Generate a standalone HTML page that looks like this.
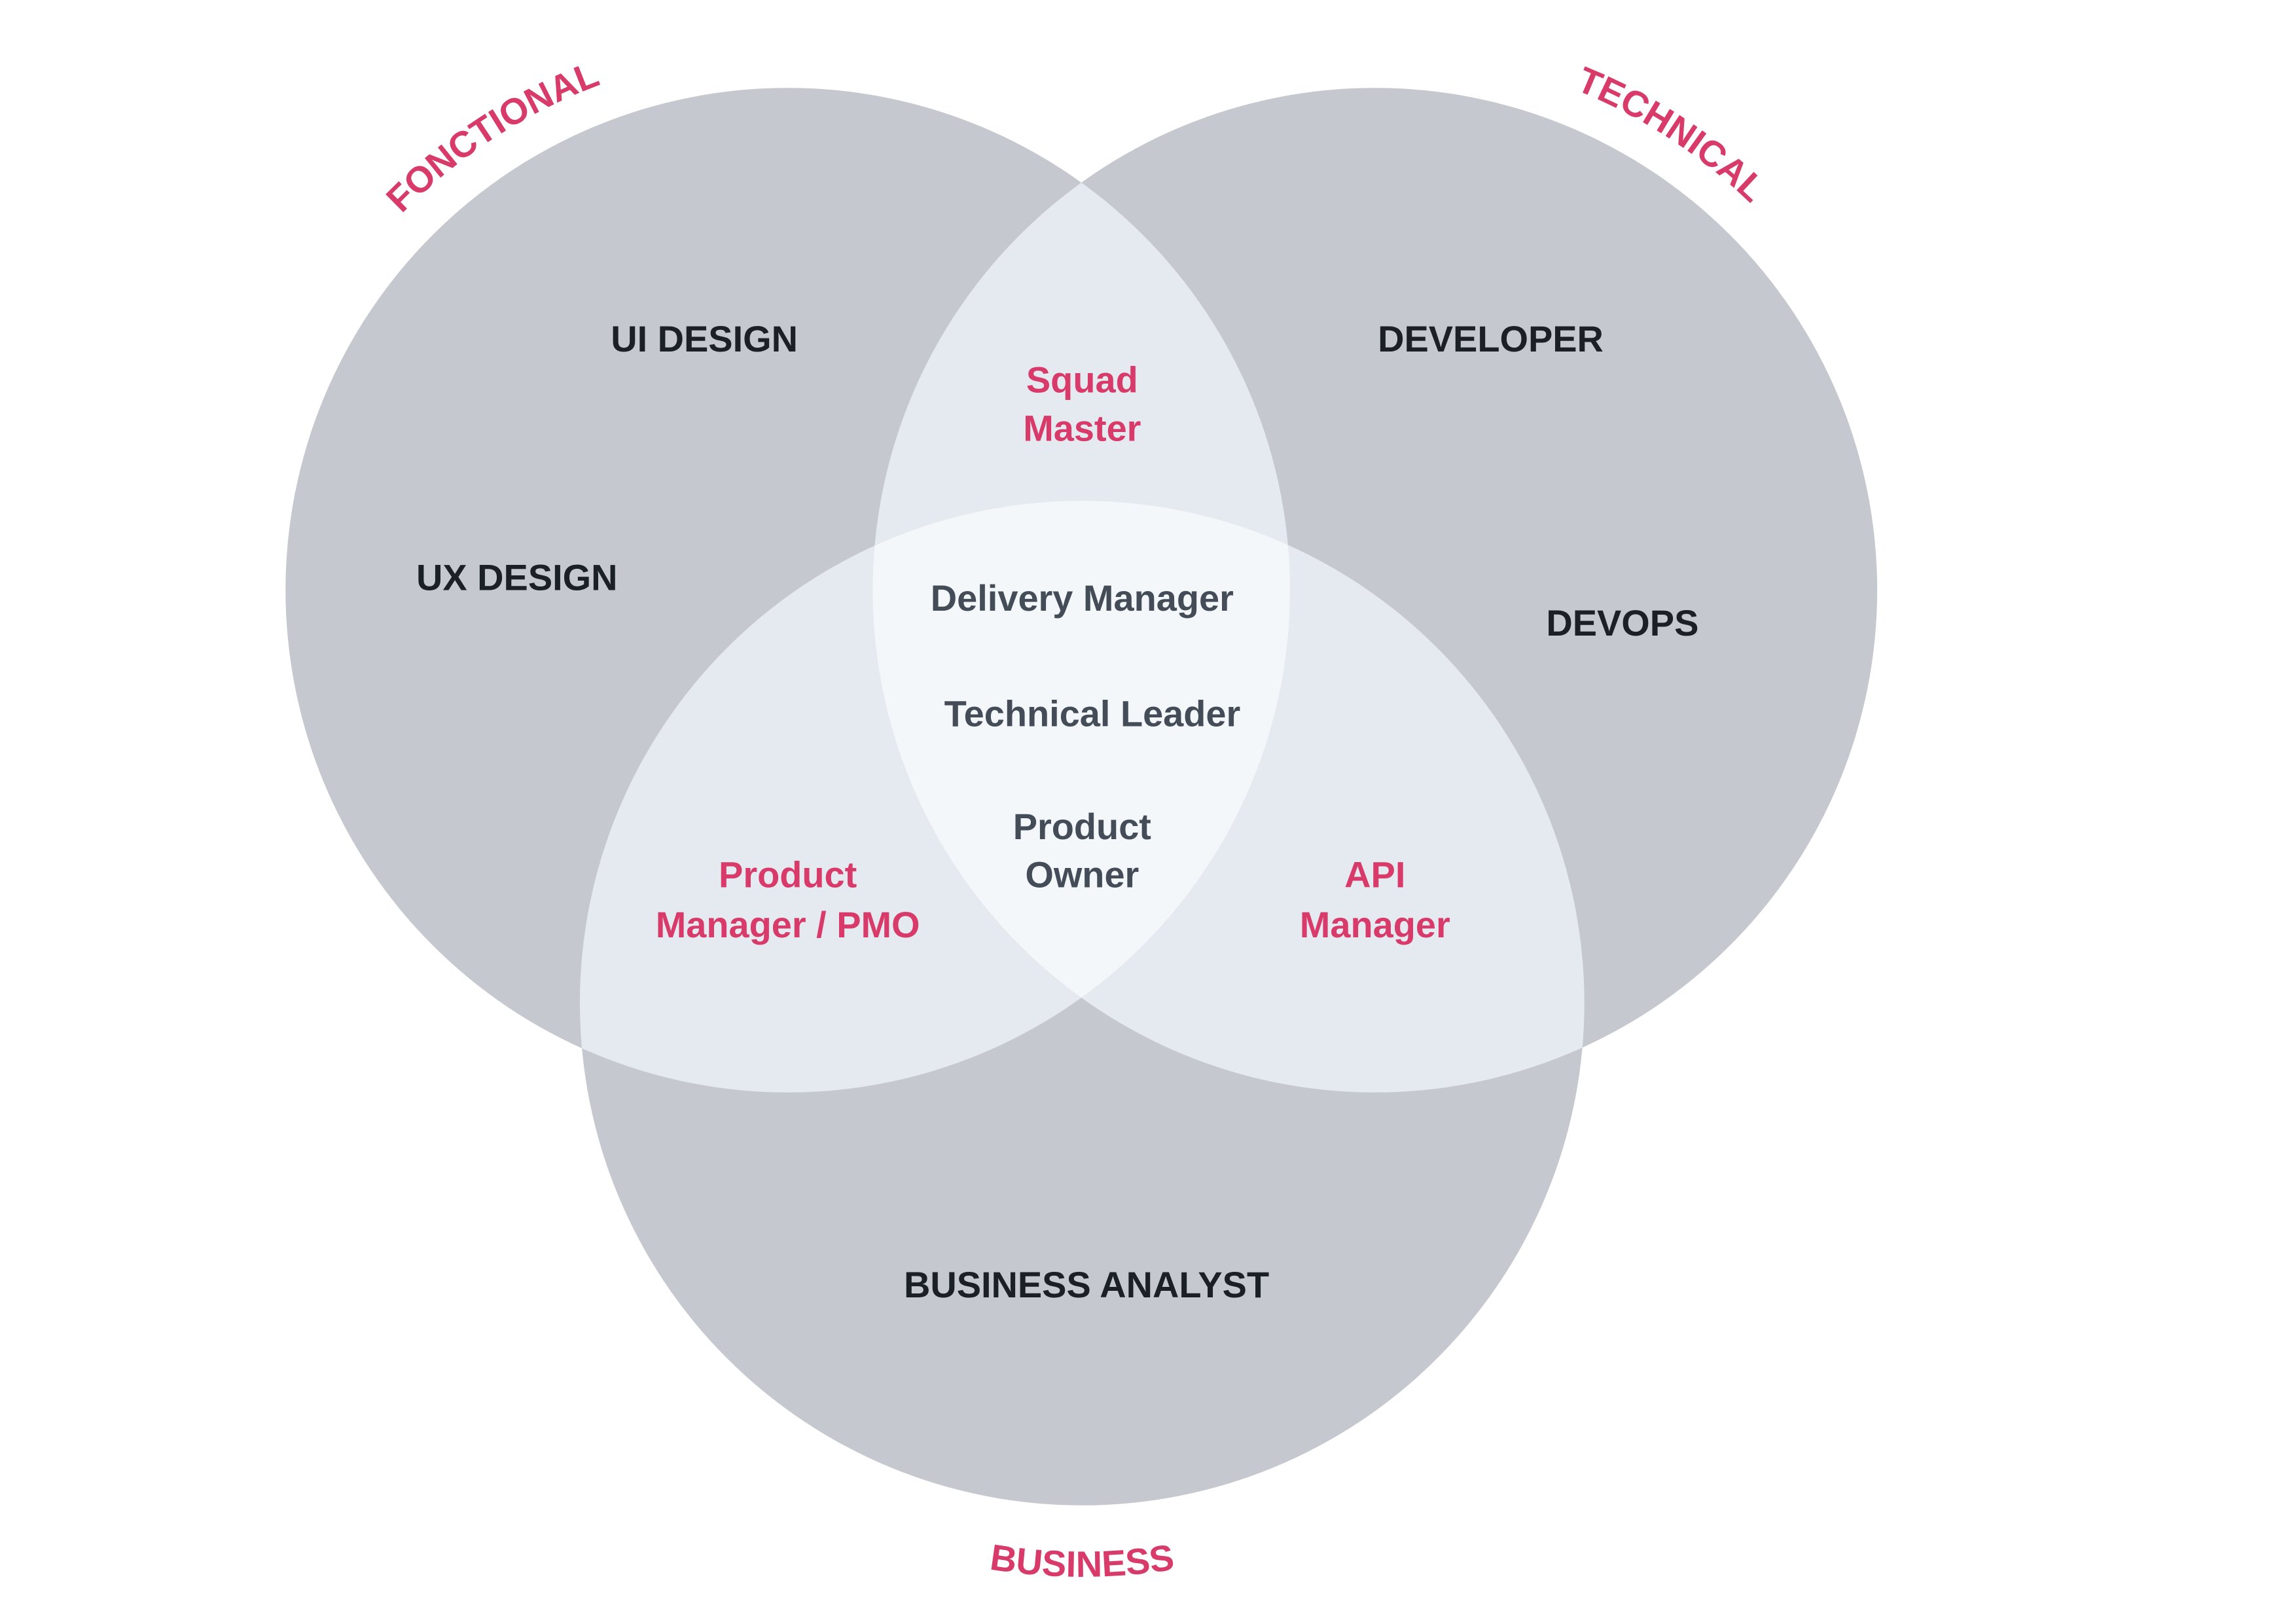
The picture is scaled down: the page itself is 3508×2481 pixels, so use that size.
<!DOCTYPE html>
<html><head><meta charset="utf-8"><style>
html,body{margin:0;padding:0;background:#fff}
svg{display:block}
text{font-family:"Liberation Sans",sans-serif;font-weight:bold}
</style></head><body>
<svg width="3508" height="2481" viewBox="0 0 1568 1109" preserveAspectRatio="none" xmlns="http://www.w3.org/2000/svg">
<defs>
<clipPath id="cA"><circle cx="538" cy="403" r="343"/></clipPath>
<clipPath id="cB"><circle cx="939" cy="403" r="343"/></clipPath>
<clipPath id="cC"><circle cx="739" cy="685" r="343"/></clipPath>
<path id="pL" d="M186,295.5 A368,368 0 0 1 583,37.6"/>
<path id="pR" d="M894,37.6 A368,368 0 0 1 1291,295.5"/>
<path id="pB" d="M487,985 A392,392 0 0 0 991,985"/>
</defs>
<rect width="1568" height="1109" fill="#fff"/>
<g fill="#c5c9cf">
<circle cx="538" cy="403" r="343"/>
<circle cx="939" cy="403" r="343"/>
<circle cx="739" cy="685" r="343"/>
</g>
<g fill="#e4eaf0">
<circle cx="538" cy="403" r="343" clip-path="url(#cB)"/>
<circle cx="538" cy="403" r="343" clip-path="url(#cC)"/>
<circle cx="939" cy="403" r="343" clip-path="url(#cC)"/>
</g>
<g clip-path="url(#cA)"><g clip-path="url(#cB)">
<circle cx="739" cy="685" r="343" fill="#f4f7fa"/>
</g></g>

<g font-size="25" fill="#d83a6a">
<text><textPath href="#pL" startOffset="50%" text-anchor="middle">FONCTIONAL</textPath></text>
<text><textPath href="#pR" startOffset="50%" text-anchor="middle">TECHNICAL</textPath></text>
<text><textPath href="#pB" startOffset="50%" text-anchor="middle">BUSINESS</textPath></text>
</g>

<g font-size="25" fill="#1b1f26" text-anchor="middle">
<text x="481" y="240">UI DESIGN</text>
<text x="353" y="403">UX DESIGN</text>
<text x="1018" y="240">DEVELOPER</text>
<text x="1108" y="434">DEVOPS</text>
<text x="742" y="886">BUSINESS ANALYST</text>
</g>
<g font-size="25" fill="#d83a6a" text-anchor="middle">
<text x="739" y="268">Squad</text>
<text x="739" y="301">Master</text>
<text x="538" y="606">Product</text>
<text x="538" y="640">Manager / PMO</text>
<text x="939" y="606">API</text>
<text x="939" y="640">Manager</text>
</g>
<g font-size="25" fill="#434c57" text-anchor="middle">
<text x="739" y="417">Delivery Manager</text>
<text x="746" y="496">Technical Leader</text>
<text x="739" y="573">Product</text>
<text x="739" y="606">Owner</text>
</g>
</svg>
</body></html>
